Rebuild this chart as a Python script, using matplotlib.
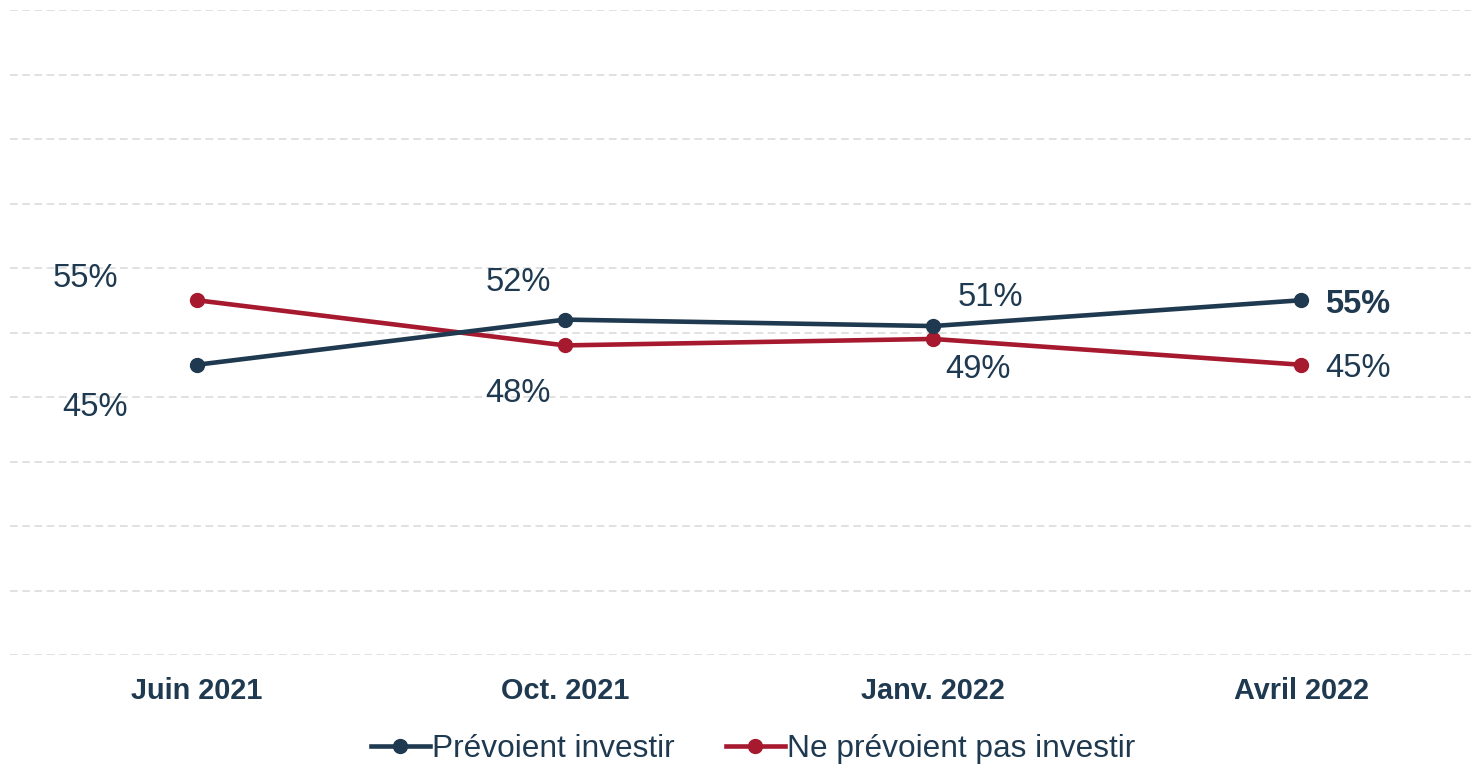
import matplotlib
matplotlib.use("Agg")
import matplotlib.pyplot as plt
from matplotlib import font_manager

categories = ["Juin 2021", "Oct. 2021", "Janv. 2022", "Avril 2022"]
prevoient = [45, 52, 51, 55]
ne_prevoient = [55, 48, 49, 45]
series_names = ["Prévoient investir", "Ne prévoient pas investir"]

NAVY = "#1F3A50"
RED = "#A6192E"

names = {f.name for f in font_manager.fontManager.ttflist}
main_font = "Liberation Sans" if "Liberation Sans" in names else "DejaVu Sans"
legend_font = "Liberation Sans Narrow" if "Liberation Sans Narrow" in names else main_font
plt.rcParams["font.family"] = [main_font, "DejaVu Sans"]

W, H = 1471, 765
fig = plt.figure(figsize=(W / 100, H / 100), dpi=100)
ax = fig.add_axes([10 / W, (H - 655) / H, (W - 10) / W, 645 / H])

x = list(range(len(categories)))
ax.plot(x, ne_prevoient, color=RED, lw=3.3, marker="o", ms=10, zorder=3,
        label=series_names[1])
ax.plot(x, prevoient, color=NAVY, lw=3.3, marker="o", ms=10, zorder=4,
        label=series_names[0])

ax.set_ylim(0, 100)
ax.set_xlim((10 - 197) / 368, (W - 197) / 368)
ax.set_yticks(range(0, 101, 10))
ax.yaxis.grid(True, color="#D9D9D9", lw=1.1, linestyle=(0, (5, 3)))
ax.set_axisbelow(True)
for s in ax.spines.values():
    s.set_visible(False)
ax.tick_params(axis="y", left=False, labelleft=False)
ax.tick_params(axis="x", length=0, pad=16)
ax.set_xticks(x)
ax.set_xticklabels(categories, fontsize=20.8, fontweight="bold", color=NAVY)

navy_offsets = [(-102, -43, "center"), (-47, 37, "center"), (57, 29, "center"), (24, -4, "left")]
red_offsets = [(-112, 22, "center"), (-47, -48, "center"), (45, -31, "center"), (24, -4, "left")]

LBL = 23.5
for i, v in enumerate(prevoient):
    dx, dy, ha = navy_offsets[i]
    ax.annotate(f"{v}%", (i, v), xytext=(dx, dy), textcoords="offset pixels",
                ha=ha, va="center", fontsize=LBL, color=NAVY,
                fontweight="bold" if i == len(prevoient) - 1 else "normal")
for i, v in enumerate(ne_prevoient):
    dx, dy, ha = red_offsets[i]
    ax.annotate(f"{v}%", (i, v), xytext=(dx, dy), textcoords="offset pixels",
                ha=ha, va="center", fontsize=LBL, color=NAVY)

h, l = ax.get_legend_handles_labels()
leg = fig.legend(h[::-1], l[::-1], loc="center", bbox_to_anchor=(753 / W, 1 - 749 / H),
                 ncol=2, frameon=False, handlelength=1.87, handletextpad=0.07,
                 columnspacing=1.6, prop={"family": [legend_font, "DejaVu Sans"], "size": 22.8})
for t in leg.get_texts():
    t.set_color(NAVY)

fig.savefig("out.png", dpi=100)
